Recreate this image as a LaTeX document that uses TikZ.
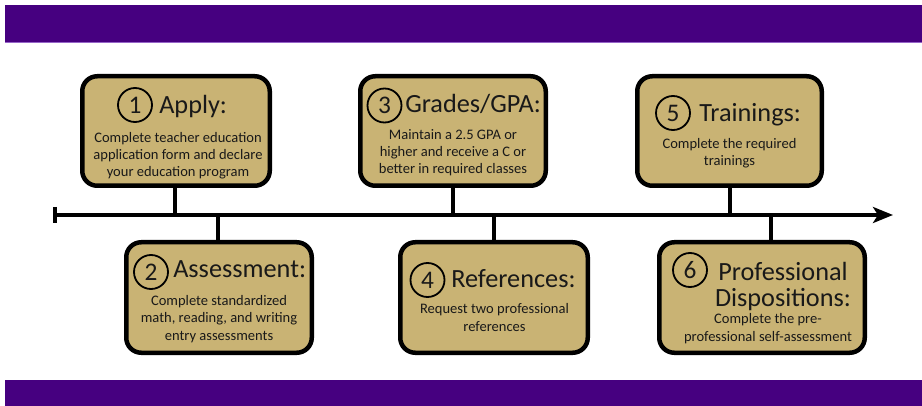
\documentclass[tikz,border=0pt]{standalone}
\usepackage{fontspec}
\setmainfont{Carlito}
\usetikzlibrary{arrows.meta}
\definecolor{bandpurple}{RGB}{70,0,128}
\definecolor{bandline}{RGB}{150,100,200}
\definecolor{tan}{RGB}{201,179,116}
\definecolor{ink}{RGB}{25,25,25}
\begin{document}
\begin{tikzpicture}[x=0.75pt,y=-0.75pt,
  stepbox/.style={draw=black, fill=tan, line width=4.5*0.75pt, rounded corners=15*0.75pt, inner sep=0pt},
  numcirc/.style={circle, draw=black, line width=1.8*0.75pt, minimum size=34*0.75pt, inner sep=0pt, text=ink, font=\fontsize{19}{22}\selectfont},
  titletext/.style={anchor=base west, inner sep=0pt, text=ink, font=\fontsize{19.7}{19.5}\selectfont},
  bodytext/.style={anchor=base, inner sep=0pt, align=center, text=ink, font=\fontsize{10.9}{13.1}\selectfont},
  stem/.style={draw=black, line width=4*0.75pt},
  timeline/.style={draw=black, line width=3.5*0.75pt}
]
\useasboundingbox (0,0) rectangle (922,406);
\fill[white] (0,0) rectangle (922,406);
% bands
\fill[bandpurple] (5,5) rectangle (922,42);
\fill[bandline] (5,42) rectangle (922,43.2);
\fill[bandpurple] (5,380) rectangle (922,406);

% boxes
\node[stepbox, minimum width=187.5*0.75pt, minimum height=109.5*0.75pt] (b1) at (176,131) {};
\node[stepbox, minimum width=185.5*0.75pt, minimum height=110.5*0.75pt] (b2) at (219,297.5) {};
\node[stepbox, minimum width=185.5*0.75pt, minimum height=109.5*0.75pt] (b3) at (453,131) {};
\node[stepbox, minimum width=187.5*0.75pt, minimum height=110.5*0.75pt] (b4) at (494,297.5) {};
\node[stepbox, minimum width=184.5*0.75pt, minimum height=109.5*0.75pt] (b5) at (729.5,131) {};
\node[stepbox, minimum width=205.5*0.75pt, minimum height=110.5*0.75pt] (b6) at (762,297.5) {};

% timeline
\coordinate (tl) at (55,215);
\coordinate (tr) at (893,215);
\coordinate (tlu) at (55,207);
\coordinate (tld) at (55,223);
\draw[timeline, -{Stealth[length=20*0.75pt, width=16*0.75pt, inset=5*0.75pt]}] (tl) -- (tr);
\draw[draw=black, line width=4*0.75pt] (tlu) -- (tld);

% stems
\coordinate (t1) at (175,215);
\coordinate (t2) at (218,215);
\coordinate (t3) at (453,215);
\coordinate (t4) at (494,215);
\coordinate (t5) at (730,215);
\coordinate (t6) at (771,215);
\draw[stem] (b1.south -| t1) -- (t1);
\draw[stem] (b2.north -| t2) -- (t2);
\draw[stem] (b3.south -| t3) -- (t3);
\draw[stem] (b4.north -| t4) -- (t4);
\draw[stem] (b5.south -| t5) -- (t5);
\draw[stem] (b6.north -| t6) -- (t6);

% box 1
\node[numcirc] (c1) at (135,105) {1};
\node[titletext] (h1) at (159,114) {Apply:};
\node[bodytext] (d1) at (178,177) {Complete teacher education\\application form and declare\\your education program};
% box 2
\node[numcirc] (c2) at (151,272) {2};
\node[titletext] (h2) at (173,278) {Assessment:};
\node[bodytext] (d2) at (219,340) {Complete standardized\\math, reading, and writing\\entry assessments};
% box 3
\node[numcirc] (c3) at (384.5,105.5) {3};
\node[titletext] (h3) at (405,113) {Grades/GPA:};
\node[bodytext] (d3) at (453,174) {Maintain a 2.5 GPA or\\higher and receive a C or\\better in required classes};
% box 4
\node[numcirc] (c4) at (427.5,280) {4};
\node[titletext] (h4) at (451,287) {References:};
\node[bodytext] (d4) at (494.5,331) {Request two professional\\references};
% box 5
\node[numcirc] (c5) at (673,113) {5};
\node[titletext] (h5) at (699,122) {Trainings:};
\node[bodytext] (d5) at (729.5,166) {Complete the required\\trainings};
% box 6
\node[numcirc] (c6) at (690,270) {6};
\node[anchor=base, inner sep=0pt, align=center, text=ink, font=\fontsize{19.7}{19.5}\selectfont] (h6) at (783,306) {Professional\\Dispositions:};
\node[bodytext] (d6) at (768,341) {Complete the pre-\\professional self-assessment};
\end{tikzpicture}
\end{document}
